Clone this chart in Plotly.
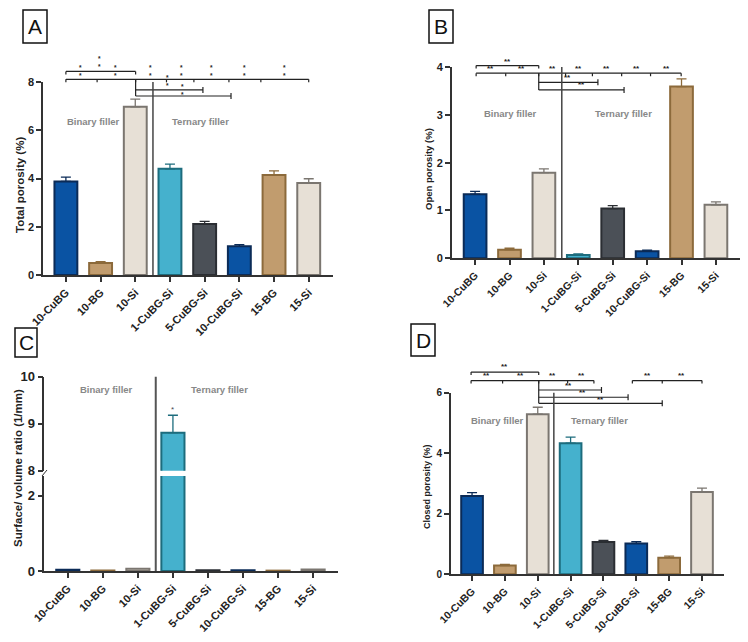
import plotly.graph_objects as go

# dados
cats = ["10-CuBG", "10-BG", "10-Si", "1-CuBG-Si", "5-CuBG-Si", "10-CuBG-Si", "15-BG", "15-Si"]
total_por = [3.88, 0.50, 6.97, 4.40, 2.11, 1.19, 4.14, 3.81]
total_err = [0.18, 0.05, 0.32, 0.20, 0.11, 0.07, 0.18, 0.18]
open_por = [1.34, 0.18, 1.79, 0.07, 1.04, 0.15, 3.59, 1.12]
open_err = [0.06, 0.03, 0.08, 0.02, 0.06, 0.02, 0.16, 0.06]
sv_ratio = [0.03, 0.01, 0.06, 8.81, 0.02, 0.02, 0.01, 0.04]
sv_err = [0, 0, 0, 0.37, 0, 0, 0, 0]
closed_por = [2.59, 0.29, 5.29, 4.33, 1.07, 1.02, 0.55, 2.72]
closed_err = [0.11, 0.04, 0.23, 0.20, 0.05, 0.06, 0.05, 0.13]

# cores das barras (preenchimento e borda)
fill = ["#0a53a3", "#c19c6e", "#e7e0d6", "#45b1cd", "#4b5057", "#0a53a3", "#c19c6e", "#e7e0d6"]
edge = ["#0b2b57", "#8c6a3b", "#7b7670", "#1d6c7d", "#2b2e33", "#0b2b57", "#8c6a3b", "#7b7670"]

# a pagina tem margem de 8px no body, entao a figura fica um pouco menor
OFF = 8
W, H = 748 - 2 * OFF, 642 - 2 * OFF
FONT = "Arial, Liberation Sans, sans-serif"
AX = "#333333"


def px(x):
    return min(1, max(0, (x - OFF) / W))


def py(y):
    return min(1, max(0, 1 - (y - OFF) / H))


# dominios e faixas de cada painel
dom = {
    "A": dict(x=[px(43), px(333)], y=[py(275), py(82)], xr=[-0.66, 7.7], yr=[0, 8]),
    "B": dict(x=[px(451.7), px(740)], y=[py(258.3), py(67)], xr=[-0.68, 7.70], yr=[0, 4]),
    "C": dict(x=[px(44.3), px(338)], y=[py(571), py(476)], xr=[-0.67, 7.71], yr=[0, 2.53]),
    "Ct": dict(y=[py(470.7), py(376.7)], yr=[8, 10]),
    "D": dict(x=[px(450.7), px(724)], y=[py(574.3), py(392.7)], xr=[-0.65, 7.67], yr=[0, 6]),
}


def to_paper(p, v):
    d = dom[p]
    return d["y"][0] + (v - d["yr"][0]) / (d["yr"][1] - d["yr"][0]) * (d["y"][1] - d["y"][0])


fig = go.Figure()


def add_bars(values, errors, xa, ya, only=None):
    for i, c in enumerate(cats):
        if only is not None and i not in only:
            continue
        fig.add_trace(go.Bar(
            x=[i], y=[values[i]], width=0.66, xaxis=xa, yaxis=ya, showlegend=False,
            marker=dict(color=fill[i], line=dict(color=edge[i], width=2)),
            error_y=dict(type="data", symmetric=False, array=[errors[i]], arrayminus=[0],
                         color=edge[i], thickness=1.3, width=5, visible=errors[i] > 0),
        ))


add_bars(total_por, total_err, "x", "y")
add_bars(open_por, open_err, "x2", "y2")
add_bars(sv_ratio, [0] * 8, "x3", "y3")
add_bars(sv_ratio, sv_err, "x3", "y5", only=[3])
add_bars(closed_por, closed_err, "x4", "y4")


def xaxis(p, anchor, size):
    return dict(domain=dom[p]["x"], range=dom[p]["xr"], anchor=anchor, tickmode="array",
                tickvals=list(range(8)), ticktext=cats, tickangle=-45,
                tickfont=dict(family=FONT, size=size, color="#222", weight="bold"),
                showline=True, linecolor=AX, linewidth=1.5, ticks="outside", ticklen=5,
                tickcolor=AX, tickwidth=1.5, showgrid=False, zeroline=False, automargin=False)


def yaxis(p, anchor, tv, size):
    return dict(domain=dom[p]["y"], range=dom[p]["yr"], anchor=anchor, tickmode="array",
                tickvals=tv, tickfont=dict(family=FONT, size=size, color="#222", weight="bold"),
                showline=True, linecolor=AX, linewidth=1.5, ticks="outside", ticklen=5,
                tickcolor=AX, tickwidth=1.5, showgrid=False, zeroline=False, automargin=False)


shapes = []
annotations = []


def note(xref, x, y, text, size, color="#222", bold=True, angle=0):
    annotations.append(dict(xref=xref, yref="paper", x=x, y=y, text=text, showarrow=False,
                            xanchor="center", yanchor="middle", textangle=angle,
                            font=dict(family=FONT, size=size, color=color,
                                      weight="bold" if bold else "normal")))


def line(xref, x0, x1, y0, y1, color="#222", width=1.2):
    shapes.append(dict(type="line", xref=xref, yref="paper", x0=x0, x1=x1, y0=y0, y1=y1,
                       line=dict(color=color, width=width)))


def bracket(p, xref, x0, x1, v, ticks, both=()):
    y = to_paper(p, v)
    t = 3 / H
    line(xref, x0, x1, y, y)
    for tx in ticks:
        line(xref, tx, tx, y - t, y)
    for tx in both:
        line(xref, tx, tx, y - t, y + t)


# painel A - barras de significancia (asteriscos empilhados)
bracket("A", "x", 0, 2.01, 8.44, [0, 2.01])
bracket("A", "x", 0, 7.0, 8.11, [0, 0.9, 2.01, 2.9, 3.69, 4.70, 5.62, 7.0])
bracket("A", "x", 2.01, 3.95, 7.67, [], both=[3.95])
bracket("A", "x", 2.01, 4.76, 7.42, [], both=[4.76])
line("x", 2.01, 2.01, to_paper("A", 7.42), to_paper("A", 8.11))
for x, v in [(0.98, 8.82), (0.43, 8.45), (1.44, 8.45), (2.45, 8.45), (3.32, 8.45),
             (4.21, 8.45), (5.16, 8.45), (6.31, 8.45), (2.94, 8.03), (3.37, 7.66)]:
    note("x", x, to_paper("A", v), "*<br>*", 6.5)

# painel B
bracket("B", "x2", 0.03, 1.85, 4.03, [0.03, 1.85])
bracket("B", "x2", 0.03, 5.99, 3.87, [0.03, 0.89, 1.85, 2.63, 3.41, 4.26, 5.1, 5.99])
bracket("B", "x2", 1.85, 3.57, 3.68, [], both=[3.57])
bracket("B", "x2", 1.85, 4.33, 3.52, [], both=[4.33])
line("x2", 1.85, 1.85, to_paper("B", 3.52), to_paper("B", 3.87))
for x, v in [(0.95, 4.12), (0.46, 3.96), (1.36, 3.96), (2.26, 3.96), (3.02, 3.96),
             (3.83, 3.96), (4.68, 3.96), (5.55, 3.96), (2.70, 3.78), (3.10, 3.64)]:
    note("x2", x, to_paper("B", v), "**", 8)

# painel D
bracket("D", "x4", -0.03, 2.03, 6.68, [-0.03, 2.03])
bracket("D", "x4", -0.03, 3.71, 6.40, [-0.03, 0.93, 2.03, 2.91, 3.71])
bracket("D", "x4", 4.88, 7.0, 6.40, [4.88, 5.79, 7.0])
bracket("D", "x4", 2.03, 3.94, 6.09, [], both=[3.94])
bracket("D", "x4", 2.03, 4.75, 5.85, [], both=[4.75])
bracket("D", "x4", 2.03, 5.79, 5.65, [], both=[5.79])
line("x4", 2.03, 2.03, to_paper("D", 5.65), to_paper("D", 6.40))
for x, v in [(1.0, 6.87), (0.44, 6.57), (1.46, 6.57), (2.45, 6.57), (3.33, 6.57),
             (5.34, 6.57), (6.39, 6.57), (2.95, 6.25), (3.36, 6.0), (3.92, 5.79)]:
    note("x4", x, to_paper("D", v), "**", 8)

# painel C - asterisco
note("x3", 3, to_paper("Ct", 9.31), "*", 8, color="#445", bold=False)

# linhas divisorias binary / ternary
line("x", 2.51, 2.51, to_paper("A", 0), to_paper("A", 8.0), color="#444", width=1.5)
line("x2", 2.52, 2.52, to_paper("B", 0), to_paper("B", 4.0), color="#444", width=1.5)
line("x3", 2.51, 2.51, to_paper("C", 0), to_paper("Ct", 10), color="#555", width=2)
line("x4", 2.49, 2.49, to_paper("D", 0), to_paper("D", 6.0), color="#444", width=1.5)

# quebra do eixo em C
shapes.append(dict(type="line", xref="paper", yref="paper", x0=px(42), x1=px(47),
                   y0=py(476), y1=py(470), line=dict(color="#333", width=1)))

# textos Binary / Ternary filler
for x, y, t in [(93, 121, "Binary filler"), (200, 121, "Ternary filler"),
                (510, 114, "Binary filler"), (623, 114, "Ternary filler"),
                (106, 389, "Binary filler"), (219, 389, "Ternary filler"),
                (497, 420, "Binary filler"), (599, 420, "Ternary filler")]:
    note("paper", px(x), py(y), t, 9.5, color="#888")

# titulos dos eixos y
for x, y, t, s in [(20, 185, "Total porosity (%)", 11.5), (429, 169, "Open porosity (%)", 9.5),
                   (18, 468, "Surface/ volume ratio (1/mm)", 11.5), (427, 487, "Closed porosity (%)", 9)]:
    note("paper", px(x), py(y), t, s, angle=-90)

# letras dos paineis com caixa
for x0, x1, y0, y1, t in [(23, 47, 10, 43, "A"), (429, 453, 10, 43, "B"),
                          (15, 37, 328, 357, "C"), (411, 435, 324, 356, "D")]:
    shapes.append(dict(type="rect", xref="paper", yref="paper", x0=px(x0), x1=px(x1),
                       y0=py(y1), y1=py(y0), line=dict(color="#111", width=1.5)))
    note("paper", px((x0 + x1) / 2), py((y0 + y1) / 2), t, 21, color="#111", bold=False)

fig.update_layout(
    width=W, height=H, margin=dict(l=0, r=0, t=0, b=0, autoexpand=False),
    paper_bgcolor="white", plot_bgcolor="white", barmode="overlay",
    xaxis=xaxis("A", "y", 11), yaxis=yaxis("A", "x", [0, 2, 4, 6, 8], 11),
    xaxis2=xaxis("B", "y2", 10.5), yaxis2=yaxis("B", "x2", [0, 1, 2, 3, 4], 11),
    xaxis3=xaxis("C", "y3", 11), yaxis3=yaxis("C", "x3", [0, 2], 13),
    yaxis5=yaxis("Ct", "x3", [8, 9, 10], 13),
    xaxis4=xaxis("D", "y4", 10.5), yaxis4=yaxis("D", "x4", [0, 2, 4, 6], 10),
    shapes=shapes, annotations=annotations,
)

fig.write_html("out.html")
